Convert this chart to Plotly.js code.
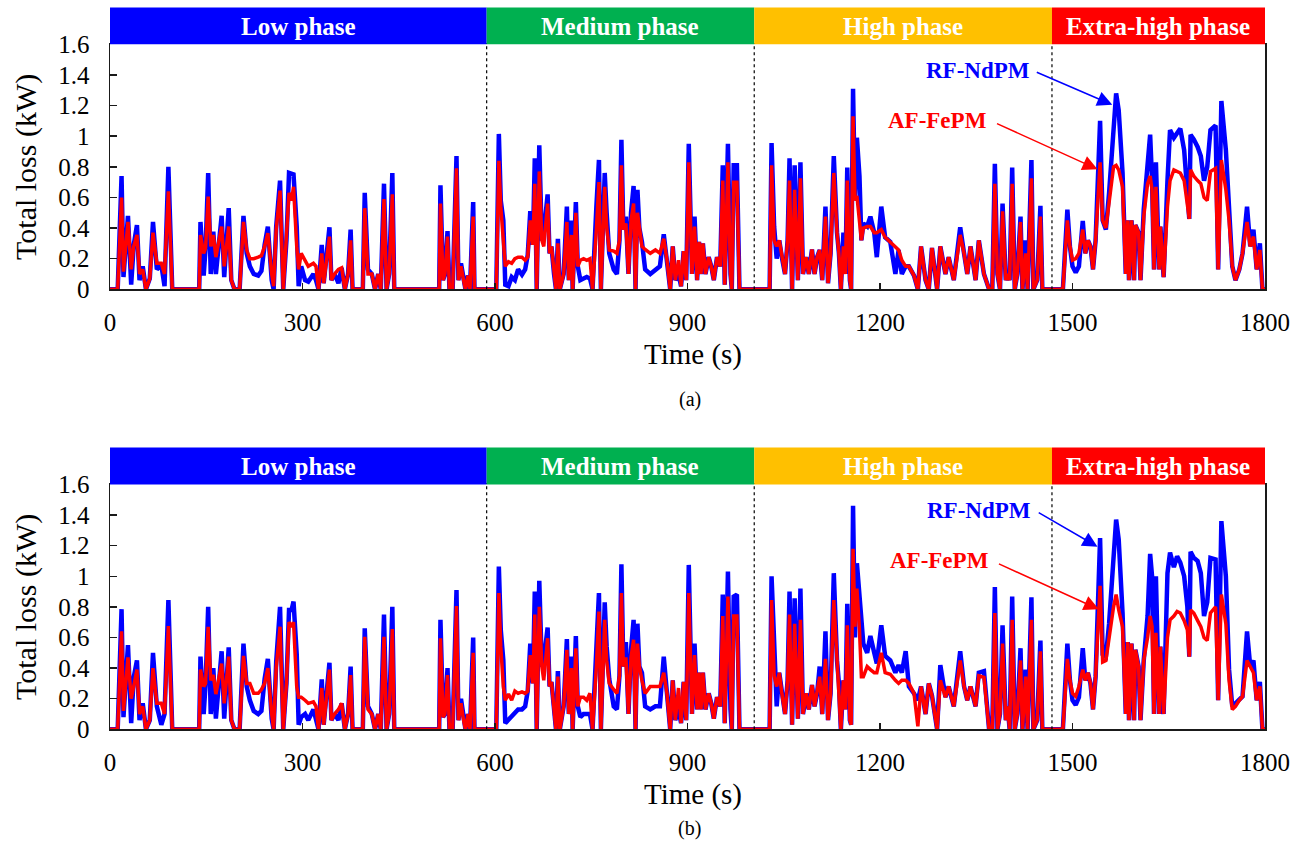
<!DOCTYPE html>
<html>
<head>
<meta charset="utf-8">
<script src="https://cdn.plot.ly/plotly-3.0.1.min.js"></script>
<style>
  html, body { margin: 0; padding: 0; background: #ffffff; }
  #chart { width: 1304px; height: 842px; }
</style>
</head>
<body>
<div id="chart"></div>
<script>
// Time stamps (s) shared by both panels of the WLTC drive cycle
const time = [0,12,18,21,28,33,37,42,46,51,56,62,67,73,80,85,91,95,97,139,141,146,149,153,157,161,165,174,178,185,189,194,202,208,213,218,224,231,236,241,246,252,255,259,265,270,275,279,283,286,291,294,298,304,309,317,321,325,330,333,342,345,350,356,361,366,371,375,378,394,397,402,408,413,418,422,427,431,435,440,443,513,515,519,522,526,529,534,540,543,547,551,554,558,561,566,568,602,606,609,613,616,621,626,631,636,642,647,651,655,659,662,665,669,673,676,682,685,688,692,695,698,701,707,712,715,719,721,726,729,733,738,743,748,752,758,762,765,771,774,778,785,790,794,797,800,804,808,812,816,819,822,825,829,834,842,850,857,863,868,873,877,881,886,890,894,898,902,907,911,915,918,921,924,928,933,937,941,946,951,955,958,963,967,969,972,977,981,1028,1031,1035,1039,1043,1047,1052,1056,1059,1063,1067,1072,1076,1080,1085,1089,1094,1098,1102,1106,1110,1115,1119,1123,1128,1133,1136,1139,1143,1146,1149,1153,1155,1158,1161,1164,1168,1171,1174,1180,1185,1191,1195,1202,1208,1216,1224,1229,1234,1240,1245,1253,1259,1264,1271,1276,1281,1289,1294,1302,1307,1315,1325,1331,1336,1341,1349,1354,1362,1370,1375,1379,1383,1387,1391,1396,1399,1402,1406,1410,1414,1419,1422,1427,1430,1436,1439,1445,1450,1453,1485,1492,1496,1500,1505,1510,1516,1520,1524,1528,1532,1536,1543,1547,1552,1557,1564,1568,1572,1578,1583,1586,1588,1592,1596,1598,1603,1606,1611,1617,1621,1624,1627,1630,1635,1637,1642,1648,1652,1658,1663,1668,1674,1679,1682,1684,1689,1695,1700,1705,1710,1715,1723,1727,1732,1739,1744,1749,1754,1760,1765,1772,1777,1782,1787,1792,1796,1800];

// Panel (a): total loss (kW)
const rfNdPM_a = [0,0,.74,.08,.48,.03,.29,.42,.06,.15,0,.07,.44,.13,.16,.02,.80,.18,0,0,.44,.09,.27,.76,.10,.377,.10,.48,.08,.53,.06,0,0,.48,.235,.15,.10,.09,.12,.29,.41,.06,0,.41,.71,0,.32,.76,.75,.75,.41,.02,.15,.06,.05,.10,.06,0,.29,.04,.405,.06,.10,.04,.14,0,.10,.39,0,0,.63,.13,.10,0,.10,0,.69,0,.10,.76,0,0,.68,.06,.10,.38,0,0,.87,.06,.17,.06,0,.09,0,.57,0,0,1.015,.58,.45,.03,.02,.08,.06,.13,.095,.13,.225,.51,.29,.856,0,.94,.32,.37,.62,.235,.28,.10,0,.33,0,.10,.54,.06,.45,0,.57,.15,.06,.07,.08,.07,0,.54,.845,0,.76,.50,.235,.13,.10,.32,.976,.39,.475,.10,.50,.675,0,.65,.40,.31,.13,.10,.13,.15,.36,.19,0,.28,.06,.10,.02,.25,.06,.95,.10,.475,.06,.31,.10,.30,.10,.21,.15,.06,.21,.15,.81,.03,.95,.10,0,.81,.81,0,0,.955,.41,.20,.32,.21,.10,.32,.856,0,.81,.06,.83,.10,.21,.10,.26,.10,.21,.257,.06,.54,.04,.235,.87,.37,.235,0,.37,.10,.795,.06,0,1.31,.58,.99,.74,.32,.43,.41,.475,.37,.21,.54,.34,.31,.10,.257,.10,.15,.15,.09,0,.28,.06,0,.27,0,.28,.10,.21,.06,.405,.235,.10,.28,.06,.32,.10,0,0,.82,.10,0,.56,.06,.10,.06,.795,0,.10,.475,0,.32,0,.845,0,.06,.545,0,0,.52,.28,.15,.11,.15,.447,.235,.32,.28,.13,.32,1.10,.45,.39,.63,1.085,1.28,1.17,.76,.10,.45,.06,.45,.06,.42,.37,.06,.52,.80,1.01,.71,.13,.83,.13,.41,.08,.71,1.04,.99,1.02,1.05,.91,.60,.46,1.01,.98,.93,.87,.71,.80,1.04,1.07,.13,1.23,.91,.45,.15,.06,.13,.235,.54,.28,.39,.13,.30,0,0];
const afFePM_a = [0,0,.60,.115,.44,.13,.28,.355,.10,.13,0,.07,.37,.17,.17,.10,.64,.15,0,0,.355,.235,.27,.605,.28,.355,.21,.41,.15,.41,.06,0,0,.44,.257,.20,.20,.21,.22,.28,.366,.10,.02,.39,.645,0,.32,.63,.58,.67,.28,.13,.235,.19,.15,.17,.15,0,.235,.04,.344,.06,.10,.13,.14,0,.10,.32,0,0,.53,.10,.10,0,.10,0,.59,0,.10,.62,0,0,.56,.06,.10,.344,0,0,.79,.06,.15,.06,0,.09,0,.475,0,0,.84,.54,.28,.15,.18,.17,.20,.21,.21,.19,.21,.45,.29,.69,0,.77,.32,.28,.56,.235,.28,.10,0,.30,0,.10,.44,.06,.355,0,.50,.15,.19,.20,.19,.20,0,.39,.70,0,.67,.41,.257,.25,.235,.32,.81,.39,.43,.10,.45,.56,0,.50,.41,.28,.26,.235,.257,.235,.33,.19,0,.28,.06,.19,.02,.25,.06,.83,.10,.41,.06,.31,.10,.30,.10,.21,.15,.06,.21,.15,.71,.03,.83,.10,0,.70,.70,0,0,.81,.32,.28,.32,.21,.10,.32,.71,0,.65,.06,.725,.10,.21,.10,.26,.10,.21,.257,.06,.475,.04,.235,.76,.37,.235,0,.28,.10,.71,.06,0,1.13,.58,.61,.45,.32,.40,.41,.41,.37,.37,.39,.34,.31,.28,.257,.19,.15,.15,.09,0,.28,.06,0,.27,0,.28,.10,.21,.06,.355,.235,.10,.28,.06,.32,.10,0,0,.69,.10,0,.51,.06,.10,.06,.69,0,.10,.44,0,.235,0,.725,0,.06,.475,0,0,.45,.28,.19,.20,.235,.39,.235,.32,.28,.13,.32,.83,.45,.40,.55,.80,.81,.78,.67,.10,.45,.06,.45,.06,.42,.37,.06,.475,.69,.74,.65,.13,.67,.13,.41,.08,.54,.71,.78,.77,.76,.71,.54,.46,.78,.74,.71,.69,.60,.58,.77,.79,.13,.845,.65,.45,.15,.06,.13,.235,.44,.28,.344,.13,.257,0,0];

// Panel (b): total loss (kW)
const rfNdPM_b = [0,0,.785,.08,.55,.04,.34,.45,.06,.17,0,.06,.50,.15,.03,.10,.845,.10,0,0,.475,.10,.30,.80,.10,.40,.07,.51,.07,.535,.06,0,0,.56,.28,.19,.12,.10,.12,.33,.46,.07,0,.44,.80,0,.30,.78,.78,.835,.49,.03,.08,.10,.06,.13,.06,0,.327,.03,.435,.06,.10,.06,.17,0,.10,.41,0,0,.66,.15,.10,0,.10,0,.75,0,.10,.80,0,0,.715,.08,.10,.40,0,0,.91,.06,.20,.06,0,.10,0,.60,0,0,1.063,.65,.45,.04,.06,.08,.10,.13,.13,.15,.25,.56,.30,.90,0,.97,.41,.45,.665,.28,.31,.13,0,.38,0,.15,.59,.10,.475,0,.61,.15,.08,.10,.10,.10,0,.58,.89,0,.83,.54,.33,.15,.13,.35,1.078,.41,.57,.10,.52,.715,0,.69,.41,.37,.15,.13,.15,.15,.475,.235,0,.32,.06,.13,.04,.31,.06,1.074,.10,.56,.13,.37,.13,.37,.13,.235,.17,.07,.21,.15,.88,.04,1.03,.13,0,.867,.88,0,0,1.00,.49,.15,.37,.235,.10,.32,.90,.03,.856,.07,.92,.10,.235,.13,.29,.15,.235,.41,.10,.64,.06,.235,1.02,.45,.30,0,.32,.13,.82,.06,.03,1.46,.60,1.085,.87,.65,.56,.50,.61,.50,.43,.68,.48,.45,.37,.42,.37,.51,.28,.235,.19,.28,.10,.30,.22,0,.42,.21,.28,.15,.51,.28,.19,.28,.15,.37,.38,0,0,.93,0,.10,.68,.06,.15,0,.867,0,.10,.53,0,.39,0,.863,0,.06,.58,0,0,.56,.32,.19,.16,.21,.53,.32,.37,.30,.13,.344,1.25,.49,.475,.69,1.19,1.37,1.24,.76,.10,.57,.06,.56,.06,.52,.41,.06,.45,.74,1.146,1.00,.10,1.00,.10,.54,.10,1.02,1.155,1.06,1.13,1.09,1.00,.80,.475,1.16,1.12,1.10,1.02,.74,.83,1.12,1.11,.19,1.36,1.00,.39,.15,.17,.19,.215,.64,.41,.45,.19,.31,0,0];
const afFePM_b = [0,0,.64,.12,.47,.20,.28,.39,.10,.15,0,.06,.40,.17,.17,.10,.675,.10,0,0,.39,.28,.30,.67,.32,.355,.23,.43,.17,.475,.06,0,0,.48,.30,.30,.235,.235,.26,.30,.40,.10,0,.40,.67,0,.30,.70,.67,.70,.28,.21,.21,.19,.17,.18,.15,0,.27,.03,.39,.06,.10,.13,.17,0,.10,.355,0,0,.605,.13,.10,0,.10,0,.605,0,.10,.655,0,0,.595,.08,.10,.355,0,0,.806,.06,.17,.06,0,.10,0,.50,0,0,.89,.54,.28,.19,.23,.19,.25,.235,.245,.235,.25,.485,.30,.75,0,.80,.41,.32,.595,.28,.31,.13,0,.344,0,.15,.52,.10,.40,0,.53,.15,.21,.21,.19,.235,0,.41,.77,0,.715,.45,.30,.26,.235,.35,.89,.41,.47,.10,.47,.585,0,.56,.41,.32,.235,.28,.28,.28,.37,.235,0,.32,.06,.27,.04,.31,.06,.89,.10,.485,.13,.37,.13,.37,.13,.235,.17,.07,.21,.15,.74,.04,.867,.13,0,.74,.74,0,0,.845,.35,.28,.37,.235,.10,.32,.75,.03,.69,.07,.715,.10,.235,.13,.29,.15,.235,.344,.10,.46,.06,.235,.845,.45,.30,0,.32,.13,.68,.06,.03,1.18,.67,.92,.65,.344,.344,.41,.39,.37,.37,.50,.37,.36,.32,.30,.32,.32,.30,.235,.02,.28,.10,.30,.22,0,.32,.21,.28,.15,.45,.28,.19,.28,.15,.35,.34,0,0,.76,0,.10,.56,.06,.15,0,.715,0,.10,.45,0,.344,0,.715,0,.06,.51,0,0,.46,.32,.235,.215,.28,.39,.32,.37,.30,.13,.344,.937,.44,.45,.60,.80,.88,.78,.67,.10,.57,.06,.56,.06,.52,.41,.06,.45,.60,.74,.67,.10,.63,.10,.54,.10,.60,.715,.74,.77,.76,.71,.65,.475,.78,.76,.71,.67,.60,.58,.76,.80,.19,.88,.69,.32,.13,.15,.19,.215,.45,.41,.37,.19,.28,0,0];

// Drive-cycle phases
const phaseNames = ['Low phase', 'Medium phase', 'High phase', 'Extra-high phase'];
const phaseStart = [0, 587, 1004, 1468];
const phaseEnd = [587, 1004, 1468, 1800];
const phaseColors = ['#0000FF', '#00B050', '#FFC000', '#FF0000'];

// Axis ticks
const xTicks = [0, 300, 600, 900, 1200, 1500, 1800];
const xTickText = ['0', '300', '600', '900', '1200', '1500', '1800'];
const yTicks = [0, 0.2, 0.4, 0.6, 0.8, 1.0, 1.2, 1.4, 1.6];
const yTickText = ['0', '0.2', '0.4', '0.6', '0.8', '1', '1.2', '1.4', '1.6'];

const FONT = 'Liberation Serif, Times New Roman, serif';
const BLUE = '#0000FF';
const RED = '#FF0000';

function lossTrace(y, color, width, xa, ya, name) {
  return {
    x: time, y: y, type: 'scatter', mode: 'lines', name: name,
    xaxis: xa, yaxis: ya,
    line: { color: color, width: width, shape: 'linear' },
    hoverinfo: 'x+y'
  };
}

const data = [
  lossTrace(rfNdPM_a, BLUE, 4.5, 'x', 'y', 'RF-NdPM'),
  lossTrace(afFePM_a, RED, 3.5, 'x', 'y', 'AF-FePM'),
  lossTrace(rfNdPM_b, BLUE, 4.5, 'x2', 'y2', 'RF-NdPM'),
  lossTrace(afFePM_b, RED, 3.5, 'x2', 'y2', 'AF-FePM')
];

function xAxis(anchor) {
  return {
    anchor: anchor, domain: [0, 1], range: [0, 1800], automargin: false,
    tickvals: xTicks, ticktext: xTickText,
    ticks: 'inside', ticklen: 6, tickwidth: 1.5, tickcolor: '#1a1a1a',
    showline: true, linecolor: '#1a1a1a', linewidth: 1.5, mirror: true,
    showgrid: false, zeroline: false,
    ticklabelstandoff: 10,
    tickfont: { family: FONT, size: 25, color: '#000' }
  };
}
function yAxis(anchor, domain) {
  return {
    anchor: anchor, domain: domain, range: [0, 1.6], automargin: false,
    tickvals: yTicks, ticktext: yTickText,
    ticks: 'inside', ticklen: 7, tickwidth: 1.5, tickcolor: '#1a1a1a',
    showline: true, linecolor: '#1a1a1a', linewidth: 1.5, mirror: true,
    showgrid: false, zeroline: false,
    ticklabelstandoff: 14,
    tickfont: { family: FONT, size: 25, color: '#000' },
    title: { text: 'Total loss (kW)', font: { family: FONT, size: 30, color: '#000' }, standoff: 12 }
  };
}

const shapes = [];
const annotations = [];
[['x', 'y'], ['x2', 'y2']].forEach(([xa, ya]) => {
  phaseNames.forEach((name, i) => {
    shapes.push({
      type: 'rect', xref: xa, yref: ya + ' domain',
      x0: phaseStart[i], x1: phaseEnd[i], y0: 1, y1: 1.151,
      fillcolor: phaseColors[i], line: { width: 0 }, layer: 'above'
    });
    annotations.push({
      xref: xa, yref: ya + ' domain', x: (phaseStart[i] + phaseEnd[i]) / 2, y: 1.072,
      xanchor: 'center', yanchor: 'middle',
      text: '<b>' + name + '</b>', showarrow: false,
      font: { family: FONT, size: 25, color: '#ffffff' }
    });
    if (i > 0) {
      shapes.push({
        type: 'line', xref: xa, yref: ya, x0: phaseStart[i], x1: phaseStart[i], y0: 0, y1: 1.6,
        line: { color: '#000', width: 1.2, dash: 'dot' }, layer: 'above'
      });
    }
  });
});

// Series labels with arrows pointing at the extra-high phase peaks
function label(xa, ya, text, x, y, color) {
  annotations.push({ xref: xa, yref: ya, x: x, y: y, xanchor: 'center', yanchor: 'middle',
    text: '<b>' + text + '</b>', showarrow: false,
    font: { family: FONT, size: 23, color: color } });
}
function arrow(xa, ya, x, y, ax, ay, color) {
  annotations.push({ xref: xa, yref: ya, axref: xa, ayref: ya, x: x, y: y, ax: ax, ay: ay, text: '',
    showarrow: true, arrowcolor: color, arrowhead: 2, arrowsize: 2, arrowwidth: 1.5, standoff: 0, startstandoff: 0 });
}
label('x', 'y', 'RF-NdPM', 1353, 1.429, BLUE);
label('x', 'y', 'AF-FePM', 1290, 1.10, RED);
arrow('x', 'y', 1562, 1.205, 1442, 1.422, BLUE);
arrow('x', 'y', 1539, 0.784, 1380, 1.087, RED);
label('x2', 'y2', 'RF-NdPM', 1354, 1.429, BLUE);
label('x2', 'y2', 'AF-FePM', 1292, 1.10, RED);
arrow('x2', 'y2', 1539, 1.193, 1445, 1.422, BLUE);
arrow('x2', 'y2', 1541, 0.784, 1383, 1.085, RED);

// Time-axis titles and panel captions
function caption(text, x, y, size) {
  annotations.push({ xref: 'paper', yref: 'paper', x: x, y: y, xanchor: 'center', yanchor: 'middle',
    text: text, showarrow: false, font: { family: FONT, size: size, color: '#000' } });
}
caption('Time (s)', 0.5045, 0.5785, 29);
caption('Time (s)', 0.5045, 0.0560, 29);
caption('(a)', 0.502, 0.526, 20);
caption('(b)', 0.502, 0.0155, 20);

const layout = {
  width: 1304, height: 842,
  margin: { l: 110, r: 39, t: 0, b: 0 },
  paper_bgcolor: '#ffffff', plot_bgcolor: '#ffffff',
  showlegend: false,
  font: { family: FONT, color: '#000' },
  xaxis: xAxis('y'),
  yaxis: yAxis('x', [0.6564, 0.9473]),
  xaxis2: xAxis('y2'),
  yaxis2: yAxis('x2', [0.1338, 0.4247]),
  shapes: shapes,
  annotations: annotations
};

Plotly.newPlot('chart', data, layout, { displayModeBar: false, staticPlot: true });
</script>
</body>
</html>
